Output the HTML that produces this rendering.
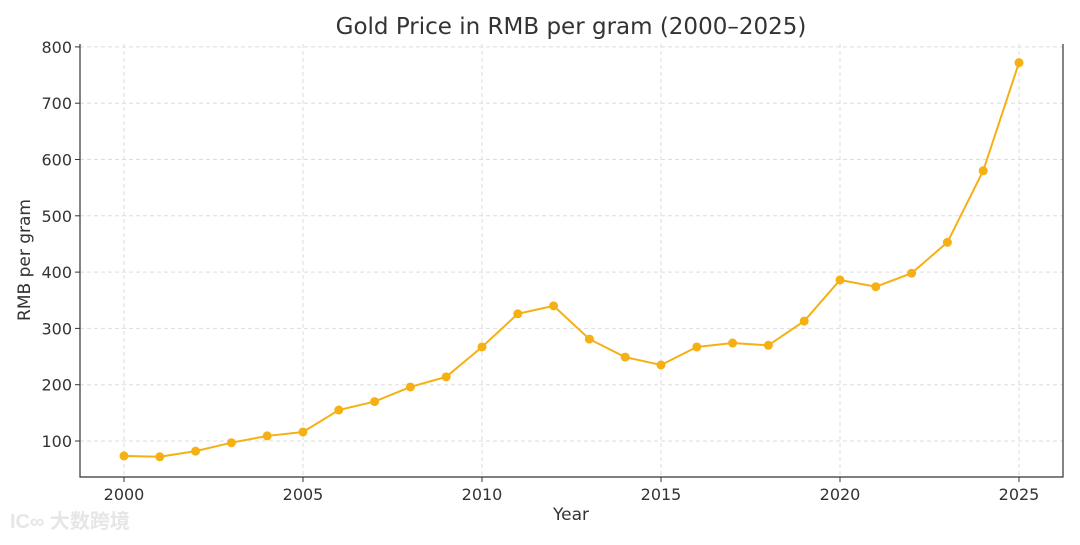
<!DOCTYPE html>
<html><head><meta charset="utf-8"><style>
body{margin:0;background:#fff;}
svg text{font-family:"DejaVu Sans","Liberation Sans",sans-serif;fill:#333;}
</style></head><body>
<svg id="chart" width="1080" height="540" xmlns="http://www.w3.org/2000/svg">
<text x="571" y="34" text-anchor="middle" font-size="23">Gold Price in RMB per gram (2000–2025)</text>
<g id="grid"></g><g id="axes"></g><g id="series"></g>
<text x="571" y="520" text-anchor="middle" font-size="17">Year</text>
<text transform="translate(30,260) rotate(-90)" text-anchor="middle" font-size="17">RMB per gram</text>
<text x="10" y="528" font-size="20" style="fill:#e6e6e6;font-family:'Liberation Sans','Noto Sans CJK SC',sans-serif;font-weight:bold">IC∞ 大数跨境</text>
</svg>
<script>
const years=[2000,2001,2002,2003,2004,2005,2006,2007,2008,2009,2010,2011,2012,2013,2014,2015,2016,2017,2018,2019,2020,2021,2022,2023,2024,2025];
const prices=[73.5,72,82,97,109,116,155,170,196,214,267,326,340,281,249,235,267,274,270,313,386,374,398,453,580,772];
const xTicks=[2000,2005,2010,2015,2020,2025];
const yTicks=[100,200,300,400,500,600,700,800];
const NS="http://www.w3.org/2000/svg";
const L=80,R=1063,T=44,B=477;
const xs=v=>124+(v-2000)*(1019-124)/25;
const ys=v=>497.3-v*0.563;
function mk(p,tag,a){const e=document.createElementNS(NS,tag);for(const k in a)e.setAttribute(k,a[k]);p.appendChild(e);return e;}
const grid=document.getElementById('grid'),axes=document.getElementById('axes'),ser=document.getElementById('series');
xTicks.forEach(t=>{
 const g=mk(grid,'line',{x1:xs(t),x2:xs(t),y1:T,y2:B,stroke:'#ddd','stroke-dasharray':'4,3'});
 
 
 mk(axes,'line',{x1:xs(t),x2:xs(t),y1:B,y2:B+5,stroke:'#333'});
 const tx=mk(axes,'text',{x:xs(t),y:B+23,'text-anchor':'middle','font-size':'16'});tx.textContent=t;
 
 
});
yTicks.forEach(t=>{
 const g=mk(grid,'line',{x1:L,x2:R,y1:ys(t),y2:ys(t),stroke:'#ddd','stroke-dasharray':'4,3'});
 
 
 mk(axes,'line',{x1:L-5,x2:L,y1:ys(t),y2:ys(t),stroke:'#333'});
 const tx=mk(axes,'text',{x:L-8,y:ys(t)+6,'text-anchor':'end','font-size':'16'});tx.textContent=t;
 
 
});
mk(axes,'path',{d:`M${L},${T}V${B}H${R}V${T}`,fill:'none',stroke:'#333','stroke-width':1.2});
const line=mk(ser,'polyline',{points:years.map((y,i)=>xs(y)+','+ys(prices[i])).join(' '),fill:'none',stroke:'#F5B014','stroke-width':2});


years.forEach((y,i)=>{
 const c=mk(ser,'circle',{cx:xs(y),cy:ys(prices[i]),r:4.5,fill:'#F5B014'});
 
 
});
</script>
</body></html>
